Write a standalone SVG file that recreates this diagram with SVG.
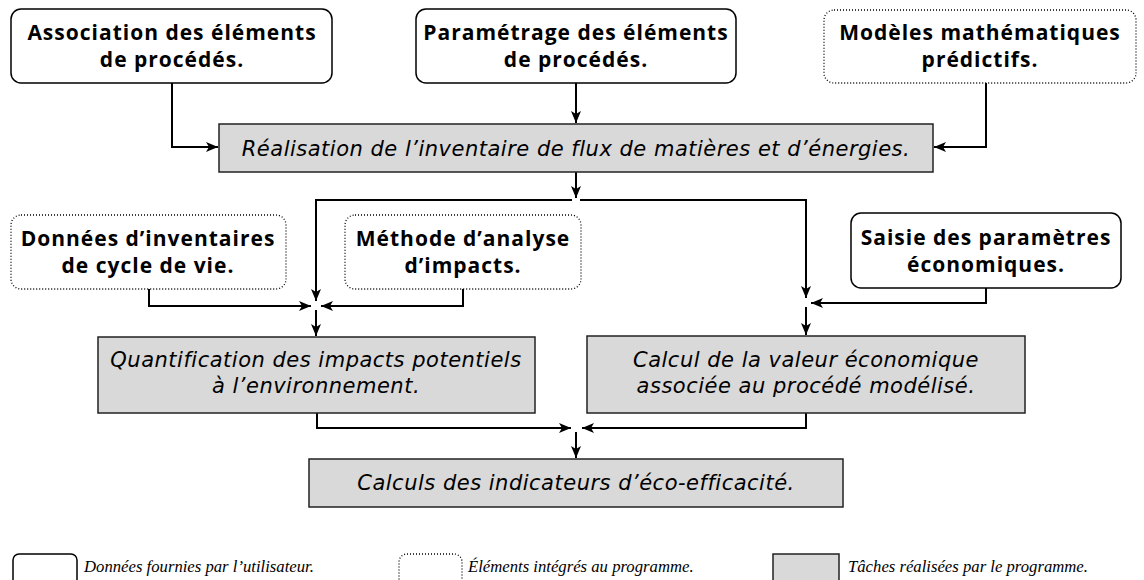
<svg xmlns="http://www.w3.org/2000/svg" width="1144" height="580" viewBox="0 0 1144 580">
<style>
.user{fill:#fff;stroke:#000;stroke-width:1.5}
.prog{fill:#fff;stroke:#000;stroke-width:1.3;stroke-dasharray:1 2}
.task{fill:#d9d9d9;stroke:#222;stroke-width:1.5}
.lb{font-family:"Open Sans","Noto Sans",sans-serif;font-weight:bold;font-size:21px;letter-spacing:1px;fill:#000;text-anchor:middle}
.li{font-family:"DejaVu Sans",sans-serif;font-style:italic;font-size:21px;letter-spacing:0.5px;fill:#000;text-anchor:middle}
.lg{font-family:"Liberation Serif",serif;font-style:italic;font-size:16.7px;fill:#000}
.c{fill:none;stroke:#000;stroke-width:2}
</style>
<defs>
<marker id="ah" markerUnits="userSpaceOnUse" markerWidth="13" markerHeight="11" refX="12" refY="5" orient="auto" viewBox="0 0 13 10">
<path d="M0,0 L12,5 L0,10 L3,5 z" fill="#000"/>
</marker>
</defs>
<g id="connectors">
<path class="c" d="M172,83 V147 H218" marker-end="url(#ah)"/>
<path class="c" d="M576,83 V123" marker-end="url(#ah)"/>
<path class="c" d="M986,83 V147 H934" marker-end="url(#ah)"/>
<path class="c" d="M576,172 V198" marker-end="url(#ah)"/>
<path class="c" d="M316,301 V200 H572"/>
<path class="c" d="M806,298 V200 H580"/>
<path class="c" d="M316,200 V301" marker-end="url(#ah)"/>
<path class="c" d="M806,200 V298" marker-end="url(#ah)"/>
<path class="c" d="M149,289 V306 H311" marker-end="url(#ah)"/>
<path class="c" d="M463,289 V306 H321" marker-end="url(#ah)"/>
<path class="c" d="M316,310 V336" marker-end="url(#ah)"/>
<path class="c" d="M986,288 V303 H811" marker-end="url(#ah)"/>
<path class="c" d="M806,307 V335" marker-end="url(#ah)"/>
<path class="c" d="M317,413 V428 H571" marker-end="url(#ah)"/>
<path class="c" d="M806,413 V428 H582" marker-end="url(#ah)"/>
<path class="c" d="M576,432 V458" marker-end="url(#ah)"/>
</g>
<g id="n-association">
<rect class="user" x="11" y="9" width="321" height="74" rx="10"/>
<text class="lb" x="172" y="40">Association des éléments</text>
<text class="lb" x="172" y="67">de procédés.</text>
</g>
<g id="n-parametrage">
<rect class="user" x="416" y="9" width="320" height="74" rx="10"/>
<text class="lb" x="576" y="40">Paramétrage des éléments</text>
<text class="lb" x="576" y="67">de procédés.</text>
</g>
<g id="n-modeles">
<rect class="prog" x="824" y="10" width="312" height="73" rx="10"/>
<text class="lb" x="980" y="40">Modèles mathématiques</text>
<text class="lb" x="980" y="67">prédictifs.</text>
</g>
<g id="n-realisation">
<rect class="task" x="219" y="124" width="714" height="48"/>
<text class="li" x="576" y="156">Réalisation de l’inventaire de flux de matières et d’énergies.</text>
</g>
<g id="n-donnees">
<rect class="prog" x="11" y="215" width="275" height="74" rx="10"/>
<text class="lb" x="148" y="246">Données d’inventaires</text>
<text class="lb" x="148" y="273">de cycle de vie.</text>
</g>
<g id="n-methode">
<rect class="prog" x="345" y="215" width="236" height="74" rx="10"/>
<text class="lb" x="463" y="246">Méthode d’analyse</text>
<text class="lb" x="463" y="273">d’impacts.</text>
</g>
<g id="n-saisie">
<rect class="user" x="851" y="213" width="270" height="75" rx="10"/>
<text class="lb" x="986" y="245">Saisie des paramètres</text>
<text class="lb" x="986" y="272">économiques.</text>
</g>
<g id="n-quantification">
<rect class="task" x="98" y="337" width="437" height="76"/>
<text class="li" x="316" y="367">Quantification des impacts potentiels</text>
<text class="li" x="316" y="393">à l’environnement.</text>
</g>
<g id="n-calcul">
<rect class="task" x="587" y="336" width="438" height="77"/>
<text class="li" x="806" y="367">Calcul de la valeur économique</text>
<text class="li" x="806" y="393">associée au procédé modélisé.</text>
</g>
<g id="n-indicateurs">
<rect class="task" x="309" y="459" width="534" height="48"/>
<text class="li" x="576" y="490">Calculs des indicateurs d’éco-efficacité.</text>
</g>
<g id="legend">
<rect class="user" x="13" y="554" width="64" height="40" rx="6"/>
<text class="lg" x="84" y="572">Données fournies par l’utilisateur.</text>
<rect class="prog" x="399" y="554" width="63" height="40" rx="8"/>
<text class="lg" x="468" y="572">Éléments intégrés au programme.</text>
<rect class="task" x="773" y="554" width="66" height="40"/>
<text class="lg" x="848" y="572">Tâches réalisées par le programme.</text>
</g>
</svg>
